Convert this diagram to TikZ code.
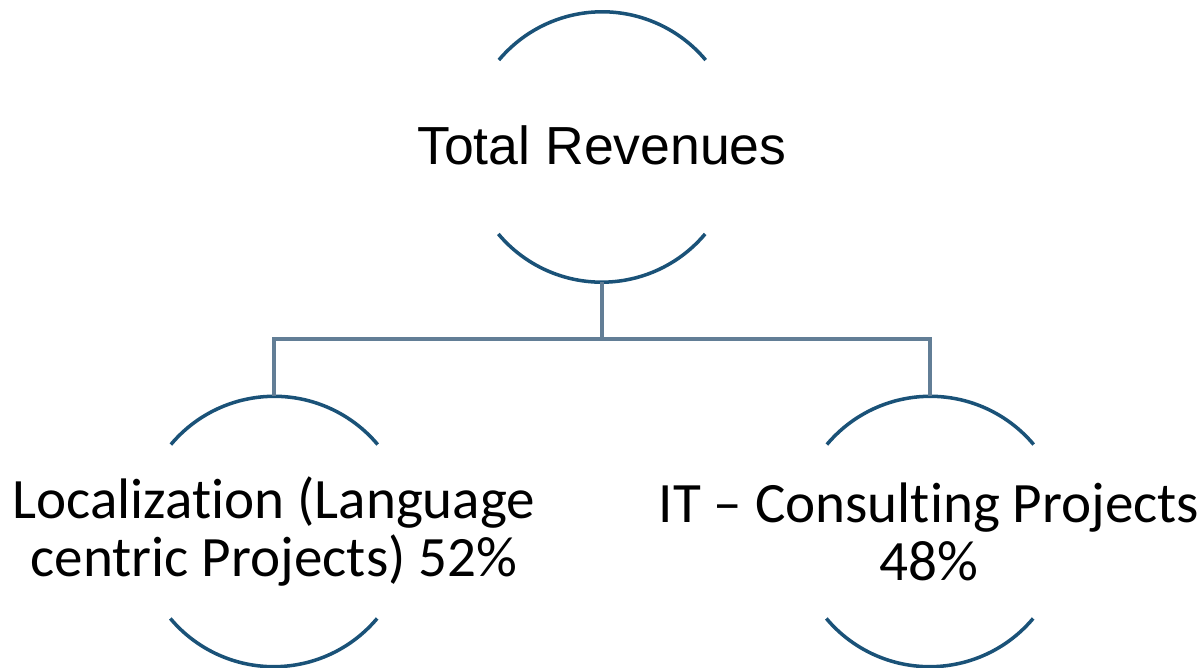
\documentclass[tikz,border=0pt]{standalone}
\usepackage{fontspec}
\setmainfont{Carlito}[Ligatures={NoCommon}]
\newfontfamily\titlefont{Liberation Sans}
\usetikzlibrary{positioning}
\definecolor{ringblue}{RGB}{26,82,120}
\definecolor{linkgrey}{RGB}{98,126,150}

\begin{document}
\begin{tikzpicture}[x=0.02cm,y=-0.02cm,
  ring/.style={circle,minimum size=5.4cm,inner sep=0pt},
  arcline/.style={ringblue,line width=2pt},
  link/.style={linkgrey,line width=2pt},
  revtitle/.style={inner sep=0pt,font=\titlefont\fontsize{30.5}{36}\selectfont},
  revtext/.style={inner sep=0pt,align=center,font=\fontsize{32.5}{33}\selectfont}]%
\useasboundingbox (0,0) rectangle (1201,668);
% rings
\node[ring] (total) at (602,147) {};
\node[ring] (local) at (274,531.5) {};
\node[ring] (itcons) at (930,531.5) {};
% open arcs top and bottom
\foreach \r in {total,local,itcons}{
  \draw[arcline] (\r.40) arc[start angle=40,end angle=140,radius=2.7cm];
  \draw[arcline] (\r.220) arc[start angle=220,end angle=320,radius=2.7cm];
}
% links
\coordinate (fork) at (602,339);
\draw[link] (total.south) -- (fork);
\draw[link] (fork) -| (local.north);
\draw[link] (fork) -| (itcons.north);
% texts
\node[revtitle] (totaltxt) at (602,145) {Total Revenues};
\node[revtext] (localtxt) at (274,532) {Localization (Language\\centric Projects) 52\%};
\node[revtext] (itconstxt) at (929,532) {IT – Consulting Projects\\48\%};
\end{tikzpicture}
\end{document}
